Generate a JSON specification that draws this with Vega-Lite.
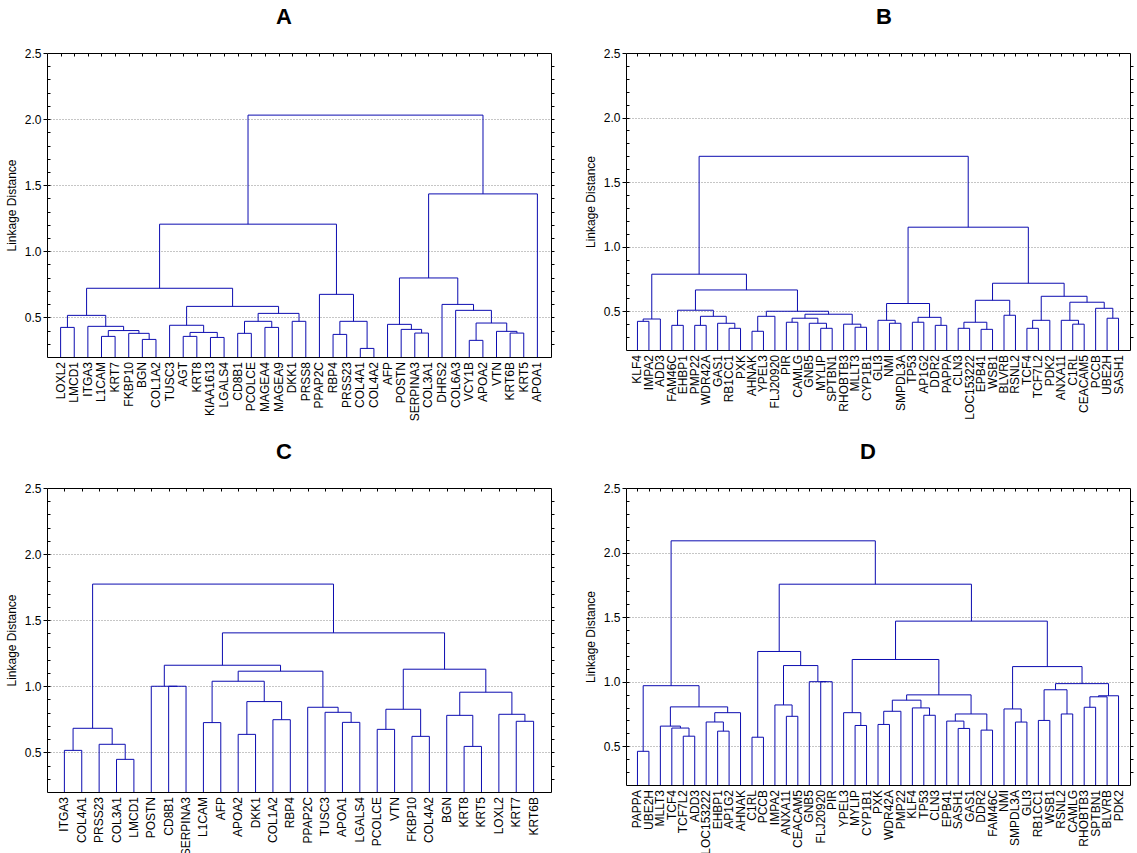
{
"$schema": "https://vega.github.io/schema/vega-lite/v6.json",
"padding": {"left": 4, "top": 5, "right": 0, "bottom": 0},
"background": "#ffffff",
"columns": 2,
"spacing": {"column": 28, "row": 18},
"config": {
  "view": {"stroke": "#000000", "strokeWidth": 1},
  "font": "Liberation Sans",
  "axis": {"domain": false, "grid": false, "tickColor": "#000000", "tickWidth": 1, "labelColor": "#000000", "titleColor": "#000000", "labelFont": "Liberation Sans", "titleFont": "Liberation Sans", "labelFontSize": 12, "titleFontSize": 12, "titleFontWeight": "normal"},
  "title": {"fontSize": 22, "fontWeight": "bold", "font": "Liberation Sans", "color": "#000000", "offset": 18}
},
"datasets": {
  "mA": [
    {"xl":0,"hl":0.2,"xr":1,"hr":0.2,"h":0.424},
    {"xl":3,"hl":0.2,"xr":4,"hr":0.2,"h":0.356},
    {"xl":6,"hl":0.2,"xr":7,"hr":0.2,"h":0.333},
    {"xl":5,"hl":0.2,"xr":6.5,"hr":0.333,"h":0.379},
    {"xl":3.5,"hl":0.356,"xr":5.75,"hr":0.379,"h":0.40},
    {"xl":2,"hl":0.2,"xr":4.625,"hr":0.40,"h":0.432},
    {"xl":0.5,"hl":0.424,"xr":3.3125,"hr":0.432,"h":0.515},
    {"xl":9,"hl":0.2,"xr":10,"hr":0.2,"h":0.356},
    {"xl":11,"hl":0.2,"xr":12,"hr":0.2,"h":0.348},
    {"xl":9.5,"hl":0.356,"xr":11.5,"hr":0.348,"h":0.386},
    {"xl":8,"hl":0.2,"xr":10.5,"hr":0.386,"h":0.44},
    {"xl":13,"hl":0.2,"xr":14,"hr":0.2,"h":0.379},
    {"xl":15,"hl":0.2,"xr":16,"hr":0.2,"h":0.424},
    {"xl":13.5,"hl":0.379,"xr":15.5,"hr":0.424,"h":0.47},
    {"xl":17,"hl":0.2,"xr":18,"hr":0.2,"h":0.47},
    {"xl":14.5,"hl":0.47,"xr":17.5,"hr":0.47,"h":0.53},
    {"xl":9.25,"hl":0.44,"xr":16,"hr":0.53,"h":0.583},
    {"xl":1.90625,"hl":0.515,"xr":12.625,"hr":0.583,"h":0.72},
    {"xl":20,"hl":0.2,"xr":21,"hr":0.2,"h":0.371},
    {"xl":22,"hl":0.2,"xr":23,"hr":0.2,"h":0.265},
    {"xl":20.5,"hl":0.371,"xr":22.5,"hr":0.265,"h":0.47},
    {"xl":19,"hl":0.2,"xr":21.5,"hr":0.47,"h":0.674},
    {"xl":7.265625,"hl":0.72,"xr":20.25,"hr":0.674,"h":1.205},
    {"xl":26,"hl":0.2,"xr":27,"hr":0.2,"h":0.381},
    {"xl":25,"hl":0.2,"xr":26.5,"hr":0.381,"h":0.409},
    {"xl":24,"hl":0.2,"xr":25.75,"hr":0.409,"h":0.447},
    {"xl":30,"hl":0.2,"xr":31,"hr":0.2,"h":0.326},
    {"xl":33,"hl":0.2,"xr":34,"hr":0.2,"h":0.381},
    {"xl":32,"hl":0.2,"xr":33.5,"hr":0.381,"h":0.394},
    {"xl":30.5,"hl":0.326,"xr":32.75,"hr":0.394,"h":0.457},
    {"xl":29,"hl":0.2,"xr":31.625,"hr":0.457,"h":0.553},
    {"xl":28,"hl":0.2,"xr":30.3125,"hr":0.553,"h":0.598},
    {"xl":24.875,"hl":0.447,"xr":29.15625,"hr":0.598,"h":0.798},
    {"xl":27.015625,"hl":0.798,"xr":35,"hr":0.2,"h":1.434},
    {"xl":13.7578125,"hl":1.205,"xr":31.0078125,"hr":1.434,"h":2.03}
  ],
  "lA": [
    {"i":0,"g":"LOXL2"},{"i":1,"g":"LMCD1"},{"i":2,"g":"ITGA3"},{"i":3,"g":"L1CAM"},{"i":4,"g":"KRT7"},{"i":5,"g":"FKBP10"},{"i":6,"g":"BGN"},{"i":7,"g":"COL1A2"},{"i":8,"g":"TUSC3"},{"i":9,"g":"AGT"},{"i":10,"g":"KRT8"},{"i":11,"g":"KIAA1613"},{"i":12,"g":"LGALS4"},{"i":13,"g":"CD8B1"},{"i":14,"g":"PCOLCE"},{"i":15,"g":"MAGEA4"},{"i":16,"g":"MAGEA9"},{"i":17,"g":"DKK1"},{"i":18,"g":"PRSS8"},{"i":19,"g":"PPAP2C"},{"i":20,"g":"RBP4"},{"i":21,"g":"PRSS23"},{"i":22,"g":"COL4A1"},{"i":23,"g":"COL4A2"},{"i":24,"g":"AFP"},{"i":25,"g":"POSTN"},{"i":26,"g":"SERPINA3"},{"i":27,"g":"COL3A1"},{"i":28,"g":"DHRS2"},{"i":29,"g":"COL6A3"},{"i":30,"g":"VCY1B"},{"i":31,"g":"APOA2"},{"i":32,"g":"VTN"},{"i":33,"g":"KRT6B"},{"i":34,"g":"KRT5"},{"i":35,"g":"APOA1"}
  ],
  "mB": [
    {"xl":0,"hl":0.2,"xr":1,"hr":0.2,"h":0.422},
    {"xl":0.5,"hl":0.422,"xr":2,"hr":0.2,"h":0.44},
    {"xl":3,"hl":0.2,"xr":4,"hr":0.2,"h":0.391},
    {"xl":5,"hl":0.2,"xr":6,"hr":0.2,"h":0.391},
    {"xl":8,"hl":0.2,"xr":9,"hr":0.2,"h":0.368},
    {"xl":7,"hl":0.2,"xr":8.5,"hr":0.368,"h":0.407},
    {"xl":5.5,"hl":0.391,"xr":7.75,"hr":0.407,"h":0.461},
    {"xl":3.5,"hl":0.391,"xr":6.625,"hr":0.461,"h":0.508},
    {"xl":10,"hl":0.2,"xr":11,"hr":0.2,"h":0.345},
    {"xl":10.5,"hl":0.345,"xr":12,"hr":0.2,"h":0.461},
    {"xl":13,"hl":0.2,"xr":14,"hr":0.2,"h":0.415},
    {"xl":16,"hl":0.2,"xr":17,"hr":0.2,"h":0.368},
    {"xl":15,"hl":0.2,"xr":16.5,"hr":0.368,"h":0.407},
    {"xl":13.5,"hl":0.415,"xr":15.75,"hr":0.407,"h":0.446},
    {"xl":19,"hl":0.2,"xr":20,"hr":0.2,"h":0.376},
    {"xl":18,"hl":0.2,"xr":19.5,"hr":0.376,"h":0.40},
    {"xl":14.625,"hl":0.446,"xr":18.75,"hr":0.40,"h":0.477},
    {"xl":11.25,"hl":0.461,"xr":16.6875,"hr":0.477,"h":0.50},
    {"xl":5.0625,"hl":0.508,"xr":13.96875,"hr":0.50,"h":0.665},
    {"xl":1.25,"hl":0.44,"xr":9.515625,"hr":0.665,"h":0.787},
    {"xl":22,"hl":0.2,"xr":23,"hr":0.2,"h":0.407},
    {"xl":21,"hl":0.2,"xr":22.5,"hr":0.407,"h":0.43},
    {"xl":24,"hl":0.2,"xr":25,"hr":0.2,"h":0.415},
    {"xl":26,"hl":0.2,"xr":27,"hr":0.2,"h":0.391},
    {"xl":24.5,"hl":0.415,"xr":26.5,"hr":0.391,"h":0.453},
    {"xl":21.75,"hl":0.43,"xr":25.5,"hr":0.453,"h":0.56},
    {"xl":28,"hl":0.2,"xr":29,"hr":0.2,"h":0.368},
    {"xl":30,"hl":0.2,"xr":31,"hr":0.2,"h":0.36},
    {"xl":28.5,"hl":0.368,"xr":30.5,"hr":0.36,"h":0.415},
    {"xl":32,"hl":0.2,"xr":33,"hr":0.2,"h":0.469},
    {"xl":29.5,"hl":0.415,"xr":32.5,"hr":0.469,"h":0.585},
    {"xl":34,"hl":0.2,"xr":35,"hr":0.2,"h":0.368},
    {"xl":34.5,"hl":0.368,"xr":36,"hr":0.2,"h":0.43},
    {"xl":38,"hl":0.2,"xr":39,"hr":0.2,"h":0.40},
    {"xl":37,"hl":0.2,"xr":38.5,"hr":0.40,"h":0.43},
    {"xl":41,"hl":0.2,"xr":42,"hr":0.2,"h":0.446},
    {"xl":40,"hl":0.2,"xr":41.5,"hr":0.446,"h":0.523},
    {"xl":37.75,"hl":0.43,"xr":40.75,"hr":0.523,"h":0.57},
    {"xl":35.25,"hl":0.43,"xr":39.25,"hr":0.57,"h":0.616},
    {"xl":31,"hl":0.585,"xr":37.25,"hr":0.616,"h":0.717},
    {"xl":23.625,"hl":0.56,"xr":34.125,"hr":0.717,"h":1.151},
    {"xl":5.3828125,"hl":0.787,"xr":28.875,"hr":1.151,"h":1.70}
  ],
  "lB": [
    {"i":0,"g":"KLF4"},{"i":1,"g":"IMPA2"},{"i":2,"g":"ADD3"},{"i":3,"g":"FAM46C"},{"i":4,"g":"EHBP1"},{"i":5,"g":"PMP22"},{"i":6,"g":"WDR42A"},{"i":7,"g":"GAS1"},{"i":8,"g":"RB1CC1"},{"i":9,"g":"PXK"},{"i":10,"g":"AHNAK"},{"i":11,"g":"YPEL3"},{"i":12,"g":"FLJ20920"},{"i":13,"g":"PIR"},{"i":14,"g":"CAMLG"},{"i":15,"g":"GNB5"},{"i":16,"g":"MYLIP"},{"i":17,"g":"SPTBN1"},{"i":18,"g":"RHOBTB3"},{"i":19,"g":"MLLT3"},{"i":20,"g":"CYP1B1"},{"i":21,"g":"GLI3"},{"i":22,"g":"NMI"},{"i":23,"g":"SMPDL3A"},{"i":24,"g":"TP53"},{"i":25,"g":"AP1G2"},{"i":26,"g":"DDR2"},{"i":27,"g":"PAPPA"},{"i":28,"g":"CLN3"},{"i":29,"g":"LOC153222"},{"i":30,"g":"EPB41"},{"i":31,"g":"WSB1"},{"i":32,"g":"BLVRB"},{"i":33,"g":"RSNL2"},{"i":34,"g":"TCF4"},{"i":35,"g":"TCF7L2"},{"i":36,"g":"PDK2"},{"i":37,"g":"ANXA11"},{"i":38,"g":"C1RL"},{"i":39,"g":"CEACAM5"},{"i":40,"g":"PCCB"},{"i":41,"g":"UBE2H"},{"i":42,"g":"SASH1"}
  ],
  "mC": [
    {"xl":0,"hl":0.2,"xr":1,"hr":0.2,"h":0.515},
    {"xl":3,"hl":0.2,"xr":4,"hr":0.2,"h":0.447},
    {"xl":2,"hl":0.2,"xr":3.5,"hr":0.447,"h":0.561},
    {"xl":0.5,"hl":0.515,"xr":2.75,"hr":0.561,"h":0.682},
    {"xl":6,"hl":0.2,"xr":7,"hr":0.2,"h":1.0},
    {"xl":5,"hl":0.2,"xr":6.5,"hr":1.0,"h":1.0},
    {"xl":8,"hl":0.2,"xr":9,"hr":0.2,"h":0.725},
    {"xl":10,"hl":0.2,"xr":11,"hr":0.2,"h":0.636},
    {"xl":12,"hl":0.2,"xr":13,"hr":0.2,"h":0.747},
    {"xl":10.5,"hl":0.636,"xr":12.5,"hr":0.747,"h":0.884},
    {"xl":8.5,"hl":0.725,"xr":11.5,"hr":0.884,"h":1.038},
    {"xl":16,"hl":0.2,"xr":17,"hr":0.2,"h":0.727},
    {"xl":15,"hl":0.2,"xr":16.5,"hr":0.727,"h":0.803},
    {"xl":14,"hl":0.2,"xr":15.75,"hr":0.803,"h":0.841},
    {"xl":10,"hl":1.038,"xr":14.875,"hr":0.841,"h":1.114},
    {"xl":5.75,"hl":1.0,"xr":12.4375,"hr":1.114,"h":1.159},
    {"xl":18,"hl":0.2,"xr":19,"hr":0.2,"h":0.674},
    {"xl":20,"hl":0.2,"xr":21,"hr":0.2,"h":0.621},
    {"xl":18.5,"hl":0.674,"xr":20.5,"hr":0.621,"h":0.826},
    {"xl":23,"hl":0.2,"xr":24,"hr":0.2,"h":0.545},
    {"xl":22,"hl":0.2,"xr":23.5,"hr":0.545,"h":0.78},
    {"xl":26,"hl":0.2,"xr":27,"hr":0.2,"h":0.735},
    {"xl":25,"hl":0.2,"xr":26.5,"hr":0.735,"h":0.788},
    {"xl":22.75,"hl":0.78,"xr":25.75,"hr":0.788,"h":0.955},
    {"xl":19.5,"hl":0.826,"xr":24.25,"hr":0.955,"h":1.129},
    {"xl":9.09375,"hl":1.159,"xr":21.875,"hr":1.129,"h":1.404},
    {"xl":1.625,"hl":0.682,"xr":15.484375,"hr":1.404,"h":1.773}
  ],
  "lC": [
    {"i":0,"g":"ITGA3"},{"i":1,"g":"COL4A1"},{"i":2,"g":"PRSS23"},{"i":3,"g":"COL3A1"},{"i":4,"g":"LMCD1"},{"i":5,"g":"POSTN"},{"i":6,"g":"CD8B1"},{"i":7,"g":"SERPINA3"},{"i":8,"g":"L1CAM"},{"i":9,"g":"AFP"},{"i":10,"g":"APOA2"},{"i":11,"g":"DKK1"},{"i":12,"g":"COL1A2"},{"i":13,"g":"RBP4"},{"i":14,"g":"PPAP2C"},{"i":15,"g":"TUSC3"},{"i":16,"g":"APOA1"},{"i":17,"g":"LGALS4"},{"i":18,"g":"PCOLCE"},{"i":19,"g":"VTN"},{"i":20,"g":"FKBP10"},{"i":21,"g":"COL4A2"},{"i":22,"g":"BGN"},{"i":23,"g":"KRT8"},{"i":24,"g":"KRT5"},{"i":25,"g":"LOXL2"},{"i":26,"g":"KRT7"},{"i":27,"g":"KRT6B"}
  ],
  "mD": [
    {"xl":0,"hl":0.2,"xr":1,"hr":0.2,"h":0.461},
    {"xl":4,"hl":0.2,"xr":5,"hr":0.2,"h":0.578},
    {"xl":3,"hl":0.2,"xr":4.5,"hr":0.578,"h":0.641},
    {"xl":2,"hl":0.2,"xr":3.75,"hr":0.641,"h":0.656},
    {"xl":7,"hl":0.2,"xr":8,"hr":0.2,"h":0.617},
    {"xl":6,"hl":0.2,"xr":7.5,"hr":0.617,"h":0.688},
    {"xl":6.75,"hl":0.688,"xr":9,"hr":0.2,"h":0.76},
    {"xl":2.875,"hl":0.656,"xr":7.875,"hr":0.76,"h":0.805},
    {"xl":0.5,"hl":0.461,"xr":5.375,"hr":0.805,"h":0.969},
    {"xl":10,"hl":0.2,"xr":11,"hr":0.2,"h":0.57},
    {"xl":13,"hl":0.2,"xr":14,"hr":0.2,"h":0.732},
    {"xl":12,"hl":0.2,"xr":13.5,"hr":0.732,"h":0.82},
    {"xl":16,"hl":0.2,"xr":17,"hr":0.2,"h":1.0},
    {"xl":15,"hl":0.2,"xr":16.5,"hr":1.0,"h":1.0},
    {"xl":12.75,"hl":0.82,"xr":15.75,"hr":1.0,"h":1.125},
    {"xl":10.5,"hl":0.57,"xr":14.25,"hr":1.125,"h":1.234},
    {"xl":19,"hl":0.2,"xr":20,"hr":0.2,"h":0.661},
    {"xl":18,"hl":0.2,"xr":19.5,"hr":0.661,"h":0.76},
    {"xl":21,"hl":0.2,"xr":22,"hr":0.2,"h":0.669},
    {"xl":21.5,"hl":0.669,"xr":23,"hr":0.2,"h":0.771},
    {"xl":25,"hl":0.2,"xr":26,"hr":0.2,"h":0.74},
    {"xl":24,"hl":0.2,"xr":25.5,"hr":0.74,"h":0.797},
    {"xl":22.25,"hl":0.771,"xr":24.75,"hr":0.797,"h":0.857},
    {"xl":28,"hl":0.2,"xr":29,"hr":0.2,"h":0.638},
    {"xl":27,"hl":0.2,"xr":28.5,"hr":0.638,"h":0.695},
    {"xl":30,"hl":0.2,"xr":31,"hr":0.2,"h":0.625},
    {"xl":27.75,"hl":0.695,"xr":30.5,"hr":0.625,"h":0.75},
    {"xl":23.5,"hl":0.857,"xr":29.125,"hr":0.75,"h":0.898},
    {"xl":18.75,"hl":0.76,"xr":26.3125,"hr":0.898,"h":1.172},
    {"xl":33,"hl":0.2,"xr":34,"hr":0.2,"h":0.6875},
    {"xl":32,"hl":0.2,"xr":33.5,"hr":0.6875,"h":0.789},
    {"xl":35,"hl":0.2,"xr":36,"hr":0.2,"h":0.70},
    {"xl":37,"hl":0.2,"xr":38,"hr":0.2,"h":0.75},
    {"xl":35.5,"hl":0.70,"xr":37.5,"hr":0.75,"h":0.9375},
    {"xl":39,"hl":0.2,"xr":40,"hr":0.2,"h":0.802},
    {"xl":39.5,"hl":0.802,"xr":41,"hr":0.2,"h":0.883},
    {"xl":40.25,"hl":0.883,"xr":42,"hr":0.2,"h":0.891},
    {"xl":36.5,"hl":0.9375,"xr":41.125,"hr":0.891,"h":0.985},
    {"xl":32.75,"hl":0.789,"xr":38.8125,"hr":0.985,"h":1.117},
    {"xl":22.53125,"hl":1.172,"xr":35.78125,"hr":1.117,"h":1.469},
    {"xl":12.375,"hl":1.234,"xr":29.15625,"hr":1.469,"h":1.755},
    {"xl":2.9375,"hl":0.969,"xr":20.765625,"hr":1.755,"h":2.091}
  ],
  "lD": [
    {"i":0,"g":"PAPPA"},{"i":1,"g":"UBE2H"},{"i":2,"g":"MLLT3"},{"i":3,"g":"TCF4"},{"i":4,"g":"TCF7L2"},{"i":5,"g":"ADD3"},{"i":6,"g":"LOC153222"},{"i":7,"g":"EHBP1"},{"i":8,"g":"AP1G2"},{"i":9,"g":"AHNAK"},{"i":10,"g":"C1RL"},{"i":11,"g":"PCCB"},{"i":12,"g":"IMPA2"},{"i":13,"g":"ANXA11"},{"i":14,"g":"CEACAM5"},{"i":15,"g":"GNB5"},{"i":16,"g":"FLJ20920"},{"i":17,"g":"PIR"},{"i":18,"g":"YPEL3"},{"i":19,"g":"MYLIP"},{"i":20,"g":"CYP1B1"},{"i":21,"g":"PXK"},{"i":22,"g":"WDR42A"},{"i":23,"g":"PMP22"},{"i":24,"g":"KLF4"},{"i":25,"g":"TP53"},{"i":26,"g":"CLN3"},{"i":27,"g":"EPB41"},{"i":28,"g":"SASH1"},{"i":29,"g":"GAS1"},{"i":30,"g":"DDR2"},{"i":31,"g":"FAM46C"},{"i":32,"g":"NMI"},{"i":33,"g":"SMPDL3A"},{"i":34,"g":"GLI3"},{"i":35,"g":"RB1CC1"},{"i":36,"g":"WSB1"},{"i":37,"g":"RSNL2"},{"i":38,"g":"CAMLG"},{"i":39,"g":"RHOBTB3"},{"i":40,"g":"SPTBN1"},{"i":41,"g":"BLVRB"},{"i":42,"g":"PDK2"}
  ]
},
"concat": [
  {
    "title": {"text": "A", "dx": -15}, "width": 504, "height": 304,
    "layer": [
      {"data": {"name": "mA"}, "mark": {"type": "rule", "color": "#0c0cb0", "strokeWidth": 1},
       "encoding": {
         "x": {"field": "xl", "type": "quantitative", "scale": {"domain": [-1, 36], "nice": false, "zero": false}, "axis": {"orient": "top", "values": [0,1,2,3,4,5,6,7,8,9,10,11,12,13,14,15,16,17,18,19,20,21,22,23,24,25,26,27,28,29,30,31,32,33,34,35], "labels": false, "tickSize": -3, "title": null}},
         "x2": {"field": "xr"},
         "y": {"field": "h", "type": "quantitative", "scale": {"domain": [0.2, 2.5], "nice": false, "zero": false}, "axis": {"orient": "left", "values": [0.5,1,1.5,2,2.5], "format": ".1f", "tickSize": 4, "labelPadding": 2, "title": "Linkage Distance", "titlePadding": 6}}
       }},
      {"data": {"name": "mA"}, "mark": {"type": "rule", "color": "#0c0cb0", "strokeWidth": 1},
       "encoding": {
         "x": {"field": "xl", "type": "quantitative", "scale": {"domain": [-1, 36], "nice": false, "zero": false}, "axis": null},
         "y": {"field": "hl", "type": "quantitative", "scale": {"domain": [0.2, 2.5], "nice": false, "zero": false}, "axis": {"orient": "left", "values": [0.3,0.4,0.5,0.6,0.7,0.8,0.9,1,1.1,1.2,1.3,1.4,1.5,1.6,1.7,1.8,1.9,2,2.1,2.2,2.3,2.4], "labels": false, "tickSize": -3, "title": null}},
         "y2": {"field": "h"}
       }},
      {"data": {"name": "mA"}, "mark": {"type": "rule", "color": "#0c0cb0", "strokeWidth": 1},
       "encoding": {
         "x": {"field": "xr", "type": "quantitative", "scale": {"domain": [-1, 36], "nice": false, "zero": false}, "axis": null},
         "y": {"field": "hr", "type": "quantitative", "scale": {"domain": [0.2, 2.5], "nice": false, "zero": false}, "axis": {"orient": "right", "values": [0.3,0.4,0.5,0.6,0.7,0.8,0.9,1,1.1,1.2,1.3,1.4,1.5,1.6,1.7,1.8,1.9,2,2.1,2.2,2.3,2.4], "labels": false, "tickSize": 3, "title": null}},
         "y2": {"field": "h"}
       }},
      {"data": {"name": "lA"}, "mark": {"type": "text", "angle": 270, "align": "right", "baseline": "middle", "dx": -5, "fontSize": 12, "font": "Liberation Sans", "color": "#000000"},
       "encoding": {
         "x": {"field": "i", "type": "quantitative", "scale": {"domain": [-1, 36], "nice": false, "zero": false}, "axis": null},
         "y": {"datum": 0.2, "type": "quantitative", "scale": {"domain": [0.2, 2.5], "nice": false, "zero": false}, "axis": {"orient": "left", "values": [0.5,1,1.5,2], "grid": true, "gridDash": [1,2], "gridColor": "#8c8c8c", "ticks": false, "labels": false, "title": null}},
         "text": {"field": "g"}
       }}
    ],
    "resolve": {"axis": {"x": "independent", "y": "independent"}}
  },
  {
    "title": {"text": "B", "dx": 6}, "width": 504, "height": 297,
    "layer": [
      {"data": {"name": "mB"}, "mark": {"type": "rule", "color": "#0c0cb0", "strokeWidth": 1},
       "encoding": {
         "x": {"field": "xl", "type": "quantitative", "scale": {"domain": [-1, 43], "nice": false, "zero": false}, "axis": {"orient": "top", "values": [0,1,2,3,4,5,6,7,8,9,10,11,12,13,14,15,16,17,18,19,20,21,22,23,24,25,26,27,28,29,30,31,32,33,34,35,36,37,38,39,40,41,42], "labels": false, "tickSize": -3, "title": null}},
         "x2": {"field": "xr"},
         "y": {"field": "h", "type": "quantitative", "scale": {"domain": [0.2, 2.5], "nice": false, "zero": false}, "axis": {"orient": "left", "values": [0.5,1,1.5,2,2.5], "format": ".1f", "tickSize": 4, "labelPadding": 2, "title": "Linkage Distance", "titlePadding": 6}}
       }},
      {"data": {"name": "mB"}, "mark": {"type": "rule", "color": "#0c0cb0", "strokeWidth": 1},
       "encoding": {
         "x": {"field": "xl", "type": "quantitative", "scale": {"domain": [-1, 43], "nice": false, "zero": false}, "axis": null},
         "y": {"field": "hl", "type": "quantitative", "scale": {"domain": [0.2, 2.5], "nice": false, "zero": false}, "axis": {"orient": "left", "values": [0.3,0.4,0.5,0.6,0.7,0.8,0.9,1,1.1,1.2,1.3,1.4,1.5,1.6,1.7,1.8,1.9,2,2.1,2.2,2.3,2.4], "labels": false, "tickSize": -3, "title": null}},
         "y2": {"field": "h"}
       }},
      {"data": {"name": "mB"}, "mark": {"type": "rule", "color": "#0c0cb0", "strokeWidth": 1},
       "encoding": {
         "x": {"field": "xr", "type": "quantitative", "scale": {"domain": [-1, 43], "nice": false, "zero": false}, "axis": null},
         "y": {"field": "hr", "type": "quantitative", "scale": {"domain": [0.2, 2.5], "nice": false, "zero": false}, "axis": {"orient": "right", "values": [0.3,0.4,0.5,0.6,0.7,0.8,0.9,1,1.1,1.2,1.3,1.4,1.5,1.6,1.7,1.8,1.9,2,2.1,2.2,2.3,2.4], "labels": false, "tickSize": 3, "title": null}},
         "y2": {"field": "h"}
       }},
      {"data": {"name": "lB"}, "mark": {"type": "text", "angle": 270, "align": "right", "baseline": "middle", "dx": -5, "fontSize": 12, "font": "Liberation Sans", "color": "#000000"},
       "encoding": {
         "x": {"field": "i", "type": "quantitative", "scale": {"domain": [-1, 43], "nice": false, "zero": false}, "axis": null},
         "y": {"datum": 0.2, "type": "quantitative", "scale": {"domain": [0.2, 2.5], "nice": false, "zero": false}, "axis": {"orient": "left", "values": [0.5,1,1.5,2], "grid": true, "gridDash": [1,2], "gridColor": "#8c8c8c", "ticks": false, "labels": false, "title": null}},
         "text": {"field": "g"}
       }}
    ],
    "resolve": {"axis": {"x": "independent", "y": "independent"}}
  },
  {
    "title": {"text": "C", "dx": -15}, "width": 504, "height": 304,
    "layer": [
      {"data": {"name": "mC"}, "mark": {"type": "rule", "color": "#0c0cb0", "strokeWidth": 1},
       "encoding": {
         "x": {"field": "xl", "type": "quantitative", "scale": {"domain": [-1, 28], "nice": false, "zero": false}, "axis": {"orient": "top", "values": [0,1,2,3,4,5,6,7,8,9,10,11,12,13,14,15,16,17,18,19,20,21,22,23,24,25,26,27], "labels": false, "tickSize": -3, "title": null}},
         "x2": {"field": "xr"},
         "y": {"field": "h", "type": "quantitative", "scale": {"domain": [0.2, 2.5], "nice": false, "zero": false}, "axis": {"orient": "left", "values": [0.5,1,1.5,2,2.5], "format": ".1f", "tickSize": 4, "labelPadding": 2, "title": "Linkage Distance", "titlePadding": 6}}
       }},
      {"data": {"name": "mC"}, "mark": {"type": "rule", "color": "#0c0cb0", "strokeWidth": 1},
       "encoding": {
         "x": {"field": "xl", "type": "quantitative", "scale": {"domain": [-1, 28], "nice": false, "zero": false}, "axis": null},
         "y": {"field": "hl", "type": "quantitative", "scale": {"domain": [0.2, 2.5], "nice": false, "zero": false}, "axis": {"orient": "left", "values": [0.3,0.4,0.5,0.6,0.7,0.8,0.9,1,1.1,1.2,1.3,1.4,1.5,1.6,1.7,1.8,1.9,2,2.1,2.2,2.3,2.4], "labels": false, "tickSize": -3, "title": null}},
         "y2": {"field": "h"}
       }},
      {"data": {"name": "mC"}, "mark": {"type": "rule", "color": "#0c0cb0", "strokeWidth": 1},
       "encoding": {
         "x": {"field": "xr", "type": "quantitative", "scale": {"domain": [-1, 28], "nice": false, "zero": false}, "axis": null},
         "y": {"field": "hr", "type": "quantitative", "scale": {"domain": [0.2, 2.5], "nice": false, "zero": false}, "axis": {"orient": "right", "values": [0.3,0.4,0.5,0.6,0.7,0.8,0.9,1,1.1,1.2,1.3,1.4,1.5,1.6,1.7,1.8,1.9,2,2.1,2.2,2.3,2.4], "labels": false, "tickSize": 3, "title": null}},
         "y2": {"field": "h"}
       }},
      {"data": {"name": "lC"}, "mark": {"type": "text", "angle": 270, "align": "right", "baseline": "middle", "dx": -5, "fontSize": 12, "font": "Liberation Sans", "color": "#000000"},
       "encoding": {
         "x": {"field": "i", "type": "quantitative", "scale": {"domain": [-1, 28], "nice": false, "zero": false}, "axis": null},
         "y": {"datum": 0.2, "type": "quantitative", "scale": {"domain": [0.2, 2.5], "nice": false, "zero": false}, "axis": {"orient": "left", "values": [0.5,1,1.5,2], "grid": true, "gridDash": [1,2], "gridColor": "#8c8c8c", "ticks": false, "labels": false, "title": null}},
         "text": {"field": "g"}
       }}
    ],
    "resolve": {"axis": {"x": "independent", "y": "independent"}}
  },
  {
    "title": {"text": "D", "dx": -10}, "width": 504, "height": 297,
    "layer": [
      {"data": {"name": "mD"}, "mark": {"type": "rule", "color": "#0c0cb0", "strokeWidth": 1},
       "encoding": {
         "x": {"field": "xl", "type": "quantitative", "scale": {"domain": [-1, 43], "nice": false, "zero": false}, "axis": {"orient": "top", "values": [0,1,2,3,4,5,6,7,8,9,10,11,12,13,14,15,16,17,18,19,20,21,22,23,24,25,26,27,28,29,30,31,32,33,34,35,36,37,38,39,40,41,42], "labels": false, "tickSize": -3, "title": null}},
         "x2": {"field": "xr"},
         "y": {"field": "h", "type": "quantitative", "scale": {"domain": [0.2, 2.5], "nice": false, "zero": false}, "axis": {"orient": "left", "values": [0.5,1,1.5,2,2.5], "format": ".1f", "tickSize": 4, "labelPadding": 2, "title": "Linkage Distance", "titlePadding": 6}}
       }},
      {"data": {"name": "mD"}, "mark": {"type": "rule", "color": "#0c0cb0", "strokeWidth": 1},
       "encoding": {
         "x": {"field": "xl", "type": "quantitative", "scale": {"domain": [-1, 43], "nice": false, "zero": false}, "axis": null},
         "y": {"field": "hl", "type": "quantitative", "scale": {"domain": [0.2, 2.5], "nice": false, "zero": false}, "axis": {"orient": "left", "values": [0.3,0.4,0.5,0.6,0.7,0.8,0.9,1,1.1,1.2,1.3,1.4,1.5,1.6,1.7,1.8,1.9,2,2.1,2.2,2.3,2.4], "labels": false, "tickSize": -3, "title": null}},
         "y2": {"field": "h"}
       }},
      {"data": {"name": "mD"}, "mark": {"type": "rule", "color": "#0c0cb0", "strokeWidth": 1},
       "encoding": {
         "x": {"field": "xr", "type": "quantitative", "scale": {"domain": [-1, 43], "nice": false, "zero": false}, "axis": null},
         "y": {"field": "hr", "type": "quantitative", "scale": {"domain": [0.2, 2.5], "nice": false, "zero": false}, "axis": {"orient": "right", "values": [0.3,0.4,0.5,0.6,0.7,0.8,0.9,1,1.1,1.2,1.3,1.4,1.5,1.6,1.7,1.8,1.9,2,2.1,2.2,2.3,2.4], "labels": false, "tickSize": 3, "title": null}},
         "y2": {"field": "h"}
       }},
      {"data": {"name": "lD"}, "mark": {"type": "text", "angle": 270, "align": "right", "baseline": "middle", "dx": -5, "fontSize": 12, "font": "Liberation Sans", "color": "#000000"},
       "encoding": {
         "x": {"field": "i", "type": "quantitative", "scale": {"domain": [-1, 43], "nice": false, "zero": false}, "axis": null},
         "y": {"datum": 0.2, "type": "quantitative", "scale": {"domain": [0.2, 2.5], "nice": false, "zero": false}, "axis": {"orient": "left", "values": [0.5,1,1.5,2], "grid": true, "gridDash": [1,2], "gridColor": "#8c8c8c", "ticks": false, "labels": false, "title": null}},
         "text": {"field": "g"}
       }}
    ],
    "resolve": {"axis": {"x": "independent", "y": "independent"}}
  }
]
}
